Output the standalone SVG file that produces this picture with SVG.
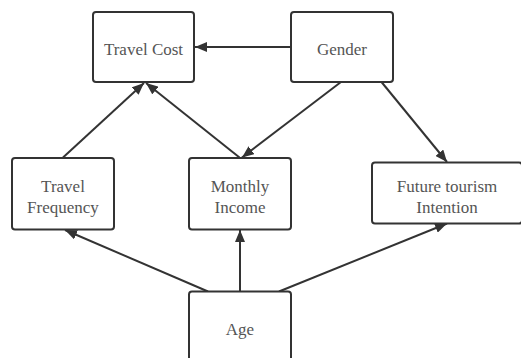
<svg xmlns="http://www.w3.org/2000/svg" width="521" height="358" viewBox="0 0 521 358">
<defs>
<marker id="arr" viewBox="0 0 12 10" refX="12" refY="5" markerWidth="12" markerHeight="10" markerUnits="userSpaceOnUse" orient="auto">
<path d="M0,0 L12,5 L0,10 Z" fill="#333"/>
</marker>
<style>
.box{fill:#fff;stroke:#333;stroke-width:2}
.edge{stroke:#333;stroke-width:2;fill:none;marker-end:url(#arr)}
</style>
</defs>
<rect width="521" height="358" fill="#fff"/>
<g id="connectors">
<line class="edge" x1="291" y1="47" x2="195" y2="47"/>
<line class="edge" x1="63" y1="157.5" x2="144" y2="83"/>
<line class="edge" x1="239.5" y1="157.5" x2="146" y2="83"/>
<line class="edge" x1="341" y1="82" x2="242" y2="157.5"/>
<line class="edge" x1="381.5" y1="82" x2="447" y2="162"/>
<line class="edge" x1="208" y1="291.5" x2="65" y2="230"/>
<line class="edge" x1="240" y1="291.5" x2="240" y2="230"/>
<line class="edge" x1="279" y1="291.5" x2="447" y2="223.5"/>
</g>
<g id="travel-cost">
<rect class="box" x="93" y="12" width="101" height="70" rx="3"/>
<text font-family="Liberation Serif" font-size="17" fill="#555" text-anchor="middle" x="143.5" y="55">Travel Cost</text>
</g>
<g id="gender">
<rect class="box" x="291" y="12" width="102" height="70" rx="3"/>
<text font-family="Liberation Serif" font-size="17" fill="#555" text-anchor="middle" x="342" y="55">Gender</text>
</g>
<g id="travel-frequency">
<rect class="box" x="12" y="158" width="102" height="71.5" rx="3"/>
<text font-family="Liberation Serif" font-size="17" fill="#555" text-anchor="middle" x="63" y="191.5">Travel</text>
<text font-family="Liberation Serif" font-size="17" fill="#555" text-anchor="middle" x="63" y="213">Frequency</text>
</g>
<g id="monthly-income">
<rect class="box" x="189" y="158" width="102" height="71.5" rx="3"/>
<text font-family="Liberation Serif" font-size="17" fill="#555" text-anchor="middle" x="240" y="191.5">Monthly</text>
<text font-family="Liberation Serif" font-size="17" fill="#555" text-anchor="middle" x="240" y="213">Income</text>
</g>
<g id="future-tourism">
<rect class="box" x="372" y="162.5" width="150" height="61" rx="3"/>
<text font-family="Liberation Serif" font-size="17" fill="#555" text-anchor="middle" x="447" y="191.5">Future tourism</text>
<text font-family="Liberation Serif" font-size="17" fill="#555" text-anchor="middle" x="447" y="213">Intention</text>
</g>
<g id="age">
<rect class="box" x="189" y="291.5" width="102" height="72" rx="3"/>
<text font-family="Liberation Serif" font-size="17" fill="#555" text-anchor="middle" x="240" y="335">Age</text>
</g>
</svg>
